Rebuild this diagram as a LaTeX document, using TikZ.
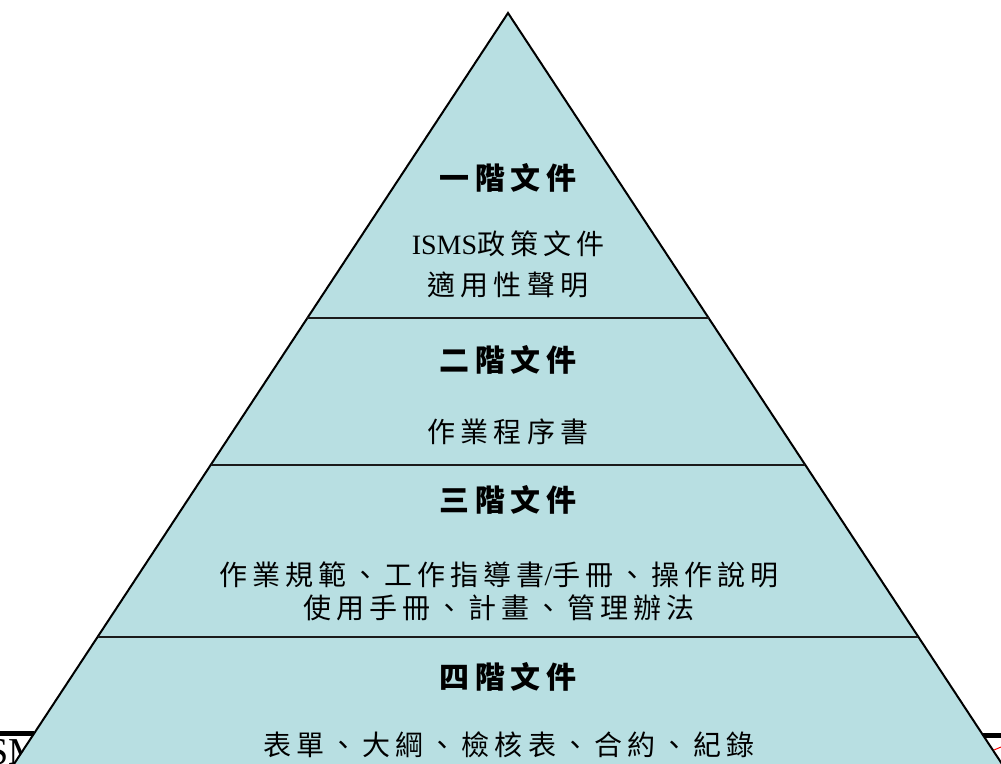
\documentclass[tikz,border=0pt]{standalone}
\usepackage{fontspec}
\setmainfont{Liberation Serif}
\newfontfamily\cjk{Noto Sans CJK TC}[LetterSpace=18]
\definecolor{pyr}{HTML}{B8DFE2}
\definecolor{divline}{HTML}{1A1A1A}
\tikzset{
  head/.style={font=\fontsize{30}{34}\selectfont\cjk\bfseries, inner sep=0pt},
  body/.style={font=\fontsize{28}{34}\selectfont, inner sep=0pt, align=center},
  divider/.style={draw=divline, line width=2pt},
}
\begin{document}
\begin{tikzpicture}[x=1pt,y=-1pt]
\useasboundingbox (0,0) rectangle (1001,763);
\clip (0,0) rectangle (1001,763);
% background slide fragments
\fill[black] (0,731) rectangle (34,736);
\fill[black] (975,733) rectangle (1001,738);
\draw[red, line width=1pt] (994,750) -- (1001,747);
\node[anchor=base west, font=\fontsize{38}{42}\selectfont, inner sep=0pt] (ft) at (-13,764) {SM};
% pyramid
\coordinate (apex) at (508,13);
\coordinate (bl) at (-11,802);
\coordinate (br) at (1027,802);
\fill[pyr] (apex) -- (br) -- (bl) -- cycle;
\draw[line width=2pt, line join=miter] (bl) -- (apex) -- (br);
% dividers
\coordinate (d1l) at (307,318); \coordinate (d1r) at (709,318);
\coordinate (d2l) at (211,465); \coordinate (d2r) at (805,465);
\coordinate (d3l) at (98,637);  \coordinate (d3r) at (918,637);
\draw[divider] (d1l) -- (d1r);
\draw[divider] (d2l) -- (d2r);
\draw[divider] (d3l) -- (d3r);
% texts
\node[head] (h1) at (508,178) {一階文件};
\node[body] (t1a) at (508,244) {ISMS{\cjk 政策文件}};
\node[body] (t1b) at (508,285) {\cjk 適用性聲明};
\node[head] (h2) at (508,360) {二階文件};
\node[body] (t2) at (508,432) {\cjk 作業程序書};
\node[head] (h3) at (508,500) {三階文件};
\node[body] (t3a) at (499,575) {{\cjk 作業規範、工作指導書}/{\cjk 手冊、操作說明}};
\node[body] (t3b) at (499,608) {\cjk 使用手冊、計畫、管理辦法};
\node[head] (h4) at (508,677) {四階文件};
\node[body] (t4) at (509,745) {\cjk 表單、大綱、檢核表、合約、紀錄};
\end{tikzpicture}
\end{document}
